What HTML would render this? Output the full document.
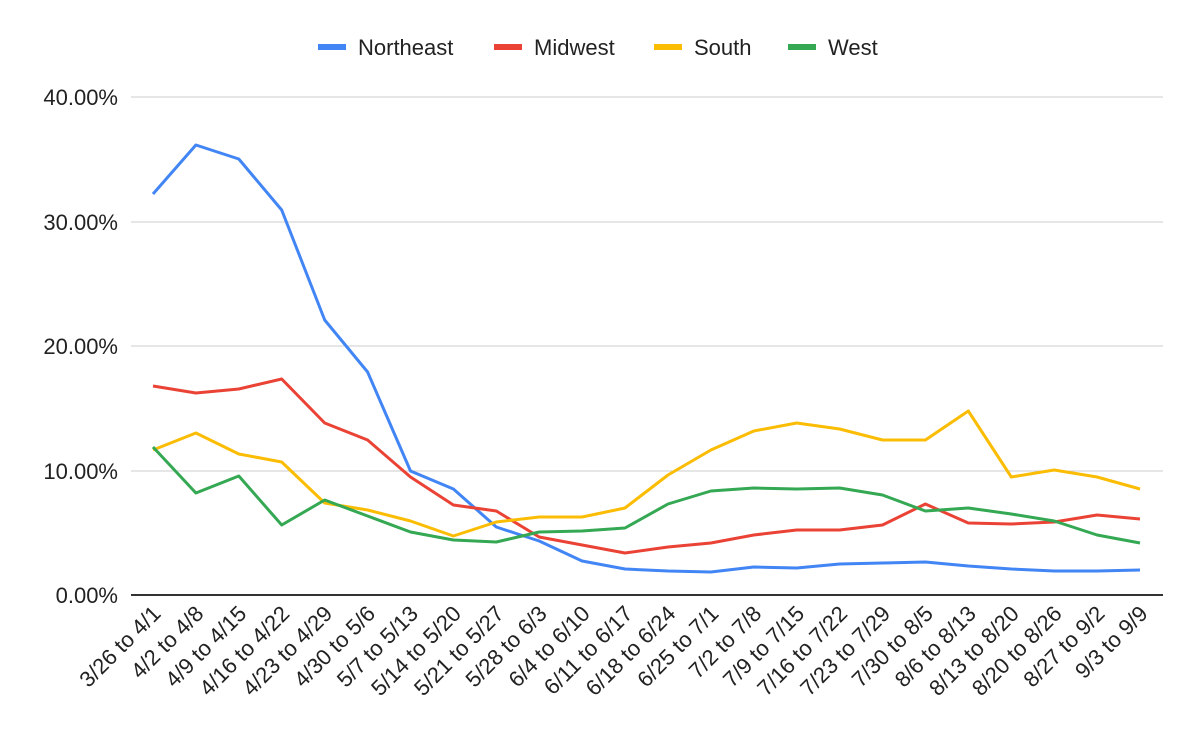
<!DOCTYPE html>
<html><head><style>body{margin:0;background:#fff}</style></head><body>
<svg width="1200" height="742" xmlns="http://www.w3.org/2000/svg" font-family="Liberation Sans, Arial, sans-serif">
<rect width="1200" height="742" fill="#fff"/>
<g stroke="#ccc" stroke-width="1">
<line x1="131" x2="1163" y1="97" y2="97"/><line x1="131" x2="1163" y1="222" y2="222"/><line x1="131" x2="1163" y1="346" y2="346"/><line x1="131" x2="1163" y1="471" y2="471"/>
</g>
<line x1="131" x2="1163" y1="595" y2="595" stroke="#333" stroke-width="2"/>
<g font-size="22" fill="#222" text-anchor="end">
<text x="118" y="105">40.00%</text><text x="118" y="230">30.00%</text><text x="118" y="354">20.00%</text><text x="118" y="479">10.00%</text><text x="118" y="603">0.00%</text>
</g>
<g font-size="22" fill="#222" text-anchor="end" id="xl"></g>
<g font-size="22" fill="#222">
<rect x="318" y="44" width="28" height="6" fill="#4285f4"/><text x="358" y="55">Northeast</text>
<rect x="494" y="44" width="28" height="6" fill="#ea4335"/><text x="534" y="55">Midwest</text>
<rect x="654" y="44" width="28" height="6" fill="#fbbc04"/><text x="694" y="55">South</text>
<rect x="788" y="44" width="28" height="6" fill="#34a853"/><text x="828" y="55">West</text>
</g>
<g fill="none" stroke-width="3" stroke-linejoin="round" id="ser"></g>
</svg>
<script>
var labels=["3/26 to 4/1","4/2 to 4/8","4/9 to 4/15","4/16 to 4/22","4/23 to 4/29","4/30 to 5/6","5/7 to 5/13","5/14 to 5/20","5/21 to 5/27","5/28 to 6/3","6/4 to 6/10","6/11 to 6/17","6/18 to 6/24","6/25 to 7/1","7/2 to 7/8","7/9 to 7/15","7/16 to 7/22","7/23 to 7/29","7/30 to 8/5","8/6 to 8/13","8/13 to 8/20","8/20 to 8/26","8/27 to 9/2","9/3 to 9/9"];
var ns="http://www.w3.org/2000/svg";
function X(i){return 153+i*(1140-153)/23;}
var xl=document.getElementById('xl');
labels.forEach(function(l,i){var t=document.createElementNS(ns,'text');var x=X(i)+9,y=615;t.setAttribute('x',x);t.setAttribute('y',y);t.setAttribute('transform','rotate(-45 '+x+' '+y+')');t.textContent=l;xl.appendChild(t);});
var data=[["#4285f4",[194,145,159,210,320,372,471,489,527,541,561,569,571,572,567,568,564,563,562,566,569,571,571,570]],
["#ea4335",[386,393,389,379,423,440,477,505,511,537,545,553,547,543,535,530,530,525,504,523,524,522,515,519]],
["#fbbc04",[450,433,454,462,503,510,521,536,522,517,517,508,475,450,431,423,429,440,440,411,477,470,477,489]],
["#34a853",[447,493,476,525,500,516,532,540,542,532,531,528,504,491,488,489,488,495,511,508,514,521,535,543]]];
var g=document.getElementById('ser');
data.forEach(function(d){var p=document.createElementNS(ns,'polyline');p.setAttribute('stroke',d[0]);p.setAttribute('points',d[1].map(function(y,i){return X(i).toFixed(1)+','+y}).join(' '));g.appendChild(p);});
</script>
</body></html>
